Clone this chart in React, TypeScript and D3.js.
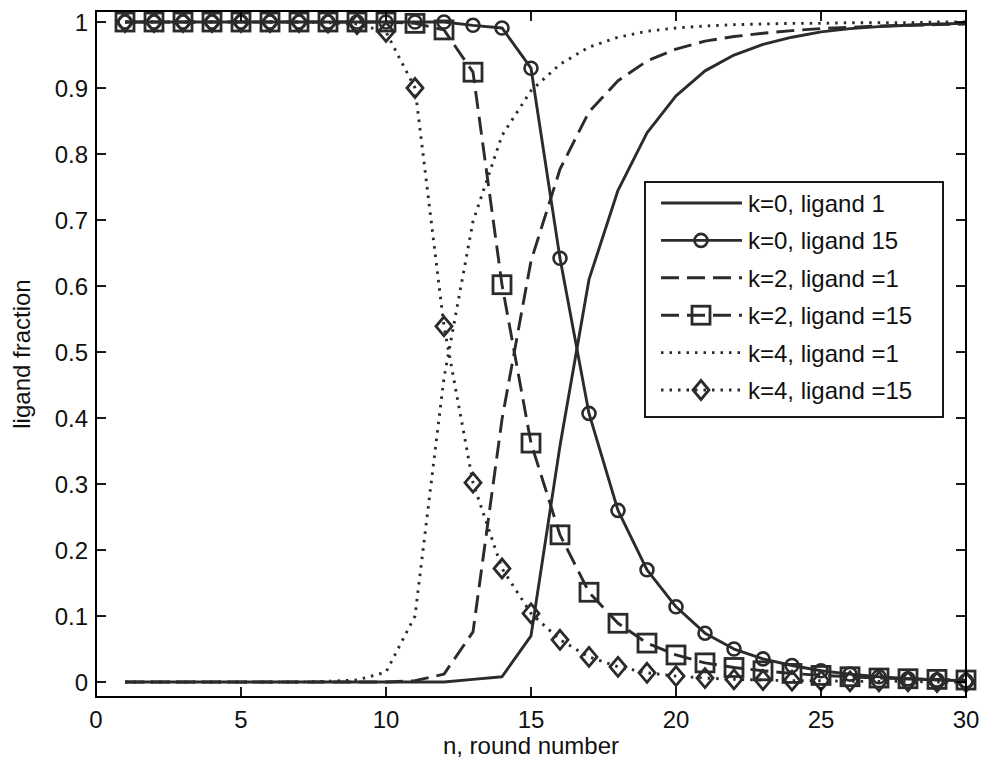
import React, { useRef, useEffect } from 'react';
import * as d3 from 'd3';

// round numbers on the x axis
const rounds = [1, 2, 3, 4, 5, 6, 7, 8, 9, 10, 11, 12, 13, 14, 15, 16, 17, 18, 19, 20, 21, 22, 23, 24, 25, 26, 27, 28, 29, 30];

// ligand fractions
const k0Lig1 = [0, 0, 0, 0, 0, 0, 0, 0, 0, 0, 0, 0, 0.004, 0.008, 0.07, 0.358, 0.61, 0.745, 0.832, 0.888, 0.926, 0.95, 0.966, 0.977, 0.985, 0.99, 0.993, 0.995, 0.997, 0.998];
const k0Lig15 = [1, 1, 1, 1, 1, 1, 1, 1, 1, 1, 1, 1, 0.995, 0.991, 0.93, 0.642, 0.407, 0.26, 0.17, 0.114, 0.074, 0.05, 0.035, 0.025, 0.017, 0.012, 0.008, 0.005, 0.003, 0.002];
const k2Lig1 = [0, 0, 0, 0, 0, 0, 0, 0, 0, 0, 0.002, 0.012, 0.076, 0.398, 0.638, 0.777, 0.864, 0.911, 0.941, 0.959, 0.971, 0.978, 0.983, 0.987, 0.99, 0.992, 0.994, 0.995, 0.996, 0.997];
const k2Lig15 = [1, 1, 1, 1, 1, 1, 1, 1, 1, 1, 0.998, 0.988, 0.924, 0.602, 0.362, 0.223, 0.136, 0.089, 0.059, 0.041, 0.029, 0.022, 0.017, 0.013, 0.01, 0.008, 0.006, 0.005, 0.004, 0.003];
const k4Lig1 = [0, 0, 0, 0, 0, 0, 0, 0.001, 0.003, 0.015, 0.1, 0.461, 0.698, 0.828, 0.896, 0.936, 0.962, 0.977, 0.986, 0.991, 0.994, 0.996, 0.997, 0.998, 0.998, 0.999, 0.999, 0.999, 1, 1];
const k4Lig15 = [1, 1, 1, 1, 1, 1, 1, 0.999, 0.997, 0.985, 0.9, 0.539, 0.302, 0.172, 0.104, 0.064, 0.038, 0.023, 0.014, 0.009, 0.006, 0.004, 0.003, 0.002, 0.002, 0.001, 0.001, 0.001, 0, 0];

const labels = ['k=0, ligand 1', 'k=0, ligand 15', 'k=2, ligand =1', 'k=2, ligand =15', 'k=4, ligand =1', 'k=4, ligand =15'];
const xTicks = [0, 5, 10, 15, 20, 25, 30];
const yTicks = [0, 0.1, 0.2, 0.3, 0.4, 0.5, 0.6, 0.7, 0.8, 0.9, 1];

const FONT = "'Liberation Sans', Arial, sans-serif";
const INK = '#2b2b2b';

export default function App() {
  const svgRef = useRef<SVGSVGElement>(null);

  useEffect(() => {
    const width = 981;
    const height = 767;
    const svg = d3.select(svgRef.current);
    svg.selectAll('*').remove();
    svg.attr('width', width).attr('height', height);

    const left = 96, right = 966, top = 11, bottom = 697;

    const x = d3.scaleLinear().domain([0, 30]).range([left, right]);
    // y range chosen so that 0 and 1 sit where the original axes put them
    const y = d3.scaleLinear().domain([-0.0227, 1.0167]).range([bottom, top]);

    const series = [
      { values: k0Lig1, dash: null, marker: null },
      { values: k0Lig15, dash: null, marker: 'circle' },
      { values: k2Lig1, dash: '18,8', marker: null },
      { values: k2Lig15, dash: '18,8', marker: 'square' },
      { values: k4Lig1, dash: '2.5,6', marker: null },
      { values: k4Lig15, dash: '2.5,6', marker: 'diamond' },
    ];

    svg.append('rect').attr('width', width).attr('height', height).attr('fill', '#fff');

    const line = d3.line<number>()
      .x((_, i) => x(rounds[i]))
      .y(d => y(d));

    const drawMarker = (g: any, kind: string, cx: number, cy: number) => {
      if (kind === 'circle') {
        g.append('circle').attr('cx', cx).attr('cy', cy).attr('r', 6.5)
          .attr('fill', 'none').attr('stroke', INK).attr('stroke-width', 2.6);
      } else if (kind === 'square') {
        g.append('rect').attr('x', cx - 9).attr('y', cy - 9).attr('width', 18).attr('height', 18)
          .attr('fill', 'none').attr('stroke', INK).attr('stroke-width', 2.8);
      } else if (kind === 'diamond') {
        g.append('path')
          .attr('d', `M${cx},${cy - 9.5}L${cx + 8},${cy}L${cx},${cy + 9.5}L${cx - 8},${cy}Z`)
          .attr('fill', 'none').attr('stroke', INK).attr('stroke-width', 2.8);
      }
    };

    // Curves
    const plot = svg.append('g');
    series.forEach(s => {
      plot.append('path')
        .datum(s.values)
        .attr('d', line)
        .attr('fill', 'none')
        .attr('stroke', INK)
        .attr('stroke-width', 2.9)
        .attr('stroke-dasharray', s.dash)
        .attr('stroke-linejoin', 'round');
      if (s.marker) {
        s.values.forEach((v, i) => drawMarker(plot, s.marker as string, x(rounds[i]), y(v)));
      }
    });

    // Axes box
    svg.append('rect')
      .attr('x', left).attr('y', top)
      .attr('width', right - left).attr('height', bottom - top)
      .attr('fill', 'none').attr('stroke', '#000').attr('stroke-width', 2);

    const tickLen = 10;
    const ticks = svg.append('g').attr('stroke', '#000').attr('stroke-width', 1.8);
    xTicks.forEach(t => {
      ticks.append('line').attr('x1', x(t)).attr('x2', x(t)).attr('y1', bottom).attr('y2', bottom - tickLen);
      ticks.append('line').attr('x1', x(t)).attr('x2', x(t)).attr('y1', top).attr('y2', top + tickLen);
    });
    yTicks.forEach(t => {
      ticks.append('line').attr('x1', left).attr('x2', left + tickLen).attr('y1', y(t)).attr('y2', y(t));
      ticks.append('line').attr('x1', right).attr('x2', right - tickLen).attr('y1', y(t)).attr('y2', y(t));
    });

    // Tick labels
    svg.append('g').selectAll('text')
      .data(xTicks)
      .enter()
      .append('text')
      .attr('x', d => x(d))
      .attr('y', 728)
      .attr('text-anchor', 'middle')
      .style('font-family', FONT)
      .style('font-size', '24px')
      .style('fill', '#111')
      .text(d => String(d));

    svg.append('g').selectAll('text')
      .data(yTicks)
      .enter()
      .append('text')
      .attr('x', 88)
      .attr('y', d => y(d) + 8.5)
      .attr('text-anchor', 'end')
      .style('font-family', FONT)
      .style('font-size', '24px')
      .style('fill', '#111')
      .text(d => d3.format('~g')(d));

    // Axis titles
    svg.append('text')
      .attr('x', (left + right) / 2)
      .attr('y', 754)
      .attr('text-anchor', 'middle')
      .style('font-family', FONT)
      .style('font-size', '24px')
      .style('fill', '#111')
      .text('n, round number');

    svg.append('text')
      .attr('transform', `translate(30,${(top + bottom) / 2}) rotate(-90)`)
      .attr('text-anchor', 'middle')
      .style('font-family', FONT)
      .style('font-size', '24px')
      .style('fill', '#111')
      .text('ligand fraction');

    // Legend
    const legend = svg.append('g');
    legend.append('rect')
      .attr('x', 645).attr('y', 182).attr('width', 298).attr('height', 235)
      .attr('fill', '#fff').attr('stroke', '#000').attr('stroke-width', 1.8);

    series.forEach((s, i) => {
      const ly = 203 + i * 37.4;
      legend.append('line')
        .attr('x1', 661).attr('x2', 742).attr('y1', ly).attr('y2', ly)
        .attr('stroke', INK).attr('stroke-width', 2.9)
        .attr('stroke-dasharray', s.dash);
      if (s.marker) drawMarker(legend, s.marker, 701, ly);
      legend.append('text')
        .attr('x', 748).attr('y', ly + 9)
        .style('font-family', FONT)
        .style('font-size', '24px')
        .style('fill', '#111')
        .text(labels[i]);
    });
  }, []);

  return (
    <div style={{ position: 'absolute', left: 0, top: 0 }}>
      <svg ref={svgRef}></svg>
    </div>
  );
}
